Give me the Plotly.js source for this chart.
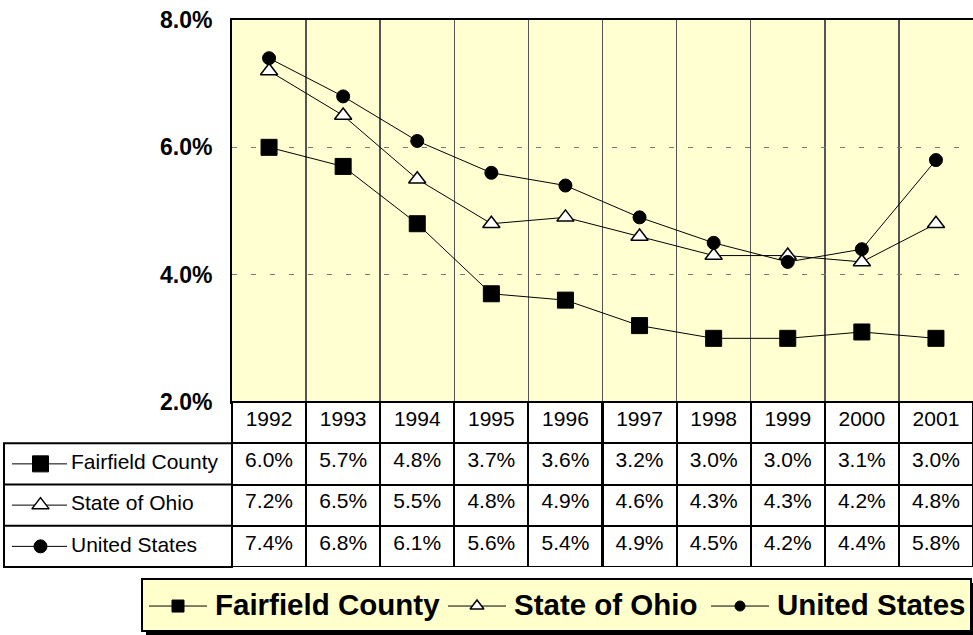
<!DOCTYPE html>
<html>
<head>
<meta charset="utf-8">
<script src="https://cdn.plot.ly/plotly-3.0.1.min.js"></script>
<style>html,body{margin:0;padding:0;background:#fff;}#chart{width:973px;height:635px;}</style>
</head>
<body>
<div id="chart"></div>
<script>
// ---- data ----
const years = [1992, 1993, 1994, 1995, 1996, 1997, 1998, 1999, 2000, 2001];
const seriesNames = ['Fairfield County', 'State of Ohio', 'United States'];
const fairfield = [6.0, 5.7, 4.8, 3.7, 3.6, 3.2, 3.0, 3.0, 3.1, 3.0];
const ohio = [7.2, 6.5, 5.5, 4.8, 4.9, 4.6, 4.3, 4.3, 4.2, 4.8];
const unitedStates = [7.4, 6.8, 6.1, 5.6, 5.4, 4.9, 4.5, 4.2, 4.4, 5.8];
const yTickVals = [2, 4, 6, 8];
const yTickText = ['2.0%', '4.0%', '6.0%', '8.0%'];

// ---- layout constants (pixels) ----
const W = 973, H = 635;
const plotL = 232, plotT = 20, plotB = 402, tableL = 4, tableB = 567, rowH = 41.25;
const legL = 142, legR = 971, legT = 579, legB = 631;
const legItemOffsets = [0, 299, 562];   // left offset of each legend item inside the box
const px = v => v / W, py = v => 1 - v / H;
const FONT = 'Arial, "Liberation Sans", sans-serif';

const seriesData = [fairfield, ohio, unitedStates];
const markers = [
  {symbol: 'square', size: 16, color: '#000', opacity: 1, line: {color: '#000', width: 1}},
  {symbol: 'triangle-up', size: 15, color: '#fff', opacity: 1, line: {color: '#000', width: 1.5}},
  {symbol: 'circle', size: 13, color: '#000', opacity: 1, line: {color: '#000', width: 1}}
];
const legendMarkers = [
  {symbol: 'square', size: 12, color: '#000', opacity: 1, line: {color: '#000', width: 1}},
  {symbol: 'triangle-up', size: 12, color: '#fff', opacity: 1, line: {color: '#000', width: 1.5}},
  {symbol: 'circle', size: 10, color: '#000', opacity: 1, line: {color: '#000', width: 1}}
];

const traces = [];
seriesData.forEach((vals, i) => {
  traces.push({
    type: 'scatter', mode: 'lines+markers', name: seriesNames[i], showlegend: false,
    x: years, y: vals, xaxis: 'x', yaxis: 'y',
    line: {color: '#000', width: 1}, marker: markers[i],
    hoverinfo: 'x+y+name'
  });
});

// data table (year columns)
const fmt = v => v.toFixed(1) + '%';
traces.push({
  type: 'table',
  domain: {x: [px(plotL), 1], y: [py(tableB), py(plotB)]},
  header: {
    values: years.map(String), height: rowH, align: 'center',
    font: {family: FONT, size: 21, color: '#000'},
    fill: {color: '#fff'}, line: {color: '#000', width: 2}
  },
  cells: {
    values: years.map((y, j) => seriesData.map(s => fmt(s[j]))), height: rowH, align: 'center',
    font: {family: FONT, size: 21, color: '#000'},
    fill: {color: '#fff'}, line: {color: '#000', width: 2}
  }
});

// row-label symbols and labels (left column of the table)
seriesData.forEach((vals, i) => {
  traces.push({
    type: 'scatter', mode: 'lines+markers', showlegend: false, hoverinfo: 'skip',
    xaxis: 'x2', yaxis: 'y2',
    x: [8, 36.5, 63], y: [2.5 - i, 2.5 - i, 2.5 - i],
    line: {color: '#000', width: 1},
    marker: Object.assign({}, markers[i], {size: [0, markers[i].size, 0]})
  });
  traces.push({
    type: 'scatter', mode: 'text', showlegend: false, hoverinfo: 'skip',
    xaxis: 'x2', yaxis: 'y2',
    x: [67], y: [2.5 - i], text: [seriesNames[i]], textposition: 'middle right',
    textfont: {family: FONT, size: 21, color: '#000'}
  });
});

// legend box entries (drawn on their own hidden axes)
seriesData.forEach((vals, i) => {
  const o = legItemOffsets[i];
  traces.push({
    type: 'scatter', mode: 'lines+markers', showlegend: false, hoverinfo: 'skip',
    xaxis: 'x3', yaxis: 'y3',
    x: [o + 7, o + 36, o + 65], y: [0.48, 0.48, 0.48],
    line: {color: '#000', width: 1},
    marker: Object.assign({}, legendMarkers[i], {size: [0, legendMarkers[i].size, 0]})
  });
  traces.push({
    type: 'scatter', mode: 'text', showlegend: false, hoverinfo: 'skip',
    xaxis: 'x3', yaxis: 'y3',
    x: [o + 73], y: [0.44], text: [seriesNames[i]], textposition: 'middle right',
    textfont: {family: FONT, size: 29.5, weight: 'bold', color: '#000'}
  });
});

const labelColShapes = [
  {type: 'rect', xref: 'paper', yref: 'paper', x0: px(tableL), x1: px(plotL), y0: py(tableB), y1: py(plotB + rowH),
   fillcolor: 'rgba(0,0,0,0)', line: {color: '#000', width: 2}, layer: 'below'}
];
[2, 3].forEach(k => labelColShapes.push(
  {type: 'line', xref: 'paper', yref: 'paper', x0: px(tableL), x1: px(plotL), y0: py(plotB + k * rowH), y1: py(plotB + k * rowH),
   line: {color: '#000', width: 2}, layer: 'below'}
));

const layout = {
  width: W, height: H,
  margin: {l: 0, r: 0, t: 0, b: 0},
  paper_bgcolor: '#fff',
  plot_bgcolor: 'rgba(255,255,255,0)',
  showlegend: false,
  font: {family: FONT, color: '#000'},
  xaxis: {
    domain: [px(plotL), 1], range: [years[0] - 0.5, years[years.length - 1] + 0.5],
    tickvals: years.slice(0, -1).map(y => y + 0.5), showticklabels: false, ticks: '',
    showgrid: true, gridcolor: '#555', gridwidth: 1.5,
    showline: true, linecolor: '#000', linewidth: 2, mirror: true, zeroline: false, fixedrange: true
  },
  yaxis: {
    domain: [py(plotB), py(plotT)], range: [2, 8],
    tickvals: yTickVals, ticktext: yTickText,
    tickfont: {family: FONT, size: 23, weight: 'bold', color: '#000'},
    ticks: 'outside', ticklen: 13, tickcolor: 'rgba(0,0,0,0)',
    showgrid: true, gridcolor: '#777', gridwidth: 1.2, griddash: '5px,14px',
    showline: true, linecolor: '#000', linewidth: 2, zeroline: false, fixedrange: true
  },
  xaxis2: {domain: [px(tableL), px(plotL)], range: [0, plotL - tableL], visible: false, fixedrange: true, anchor: 'y2'},
  yaxis2: {domain: [py(tableB), py(plotB + rowH)], range: [0, 3], visible: false, fixedrange: true, anchor: 'x2'},
  xaxis3: {domain: [px(legL), px(legR)], range: [0, legR - legL], visible: false, fixedrange: true, anchor: 'y3'},
  yaxis3: {domain: [py(legB), py(legT)], range: [0, 1], visible: false, fixedrange: true, anchor: 'x3'},
  shapes: [
    {type: 'rect', xref: 'x domain', yref: 'y domain', x0: 0, x1: 1, y0: 0, y1: 1,
     fillcolor: '#FFFFD2', line: {width: 0}, layer: 'below'},
    {type: 'rect', xref: 'paper', yref: 'paper', x0: px(legL + 4), x1: px(legR + 4), y0: py(legB + 4), y1: py(legT + 4),
     fillcolor: '#000', line: {width: 0}, layer: 'below'},
    {type: 'rect', xref: 'paper', yref: 'paper', x0: px(legL), x1: px(legR), y0: py(legB), y1: py(legT),
     fillcolor: '#FFFFCC', line: {color: '#000', width: 2}, layer: 'below'}
  ].concat(labelColShapes)
};

Plotly.newPlot('chart', traces, layout, {displayModeBar: false, staticPlot: true});
</script>
</body>
</html>
